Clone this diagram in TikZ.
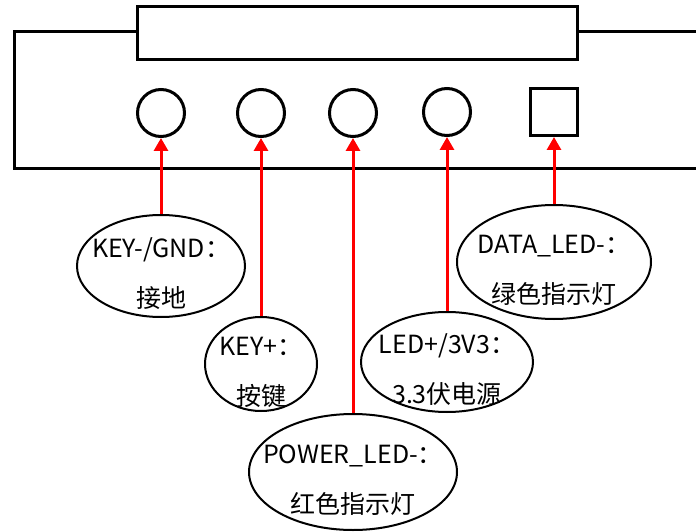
\documentclass[tikz,border=0pt]{standalone}
\usepackage{fontspec}
\setmainfont{Noto Sans CJK SC}
\usepackage{tikz}
\usetikzlibrary{shapes, arrows.meta, positioning}
\definecolor{pinred}{RGB}{255, 0, 0}

\begin{document}
\begin{tikzpicture}[x=1pt, y=-1pt,
    hole/.style={draw, circle, line width=3pt, minimum size=47pt, inner sep=0pt},
    pad/.style={draw, rectangle, line width=3pt, minimum size=47pt, inner sep=0pt},
    tag/.style={draw, ellipse, line width=2pt, inner sep=0pt},
    tagtext/.style={align=center, font=\fontsize{25}{50}\selectfont, yshift=-8pt},
    pin/.style={draw=pinred, line width=3pt, -{Triangle[width=14pt, length=13pt]}}]
  \useasboundingbox (0,0) rectangle (696,532);
  % housing
  \draw[line width=3pt] (137,32) -- (14,32) -- (14,168) -- (700,168);
  \draw[line width=3pt] (577,32) -- (700,32);
  \node[draw, line width=3pt, minimum width=440pt, minimum height=53pt, inner sep=0pt] (window) at (357,33.5) {};
  % holes and pad
  \node[hole] (gnd) at (161,113) {};
  \node[hole] (key) at (261,113) {};
  \node[hole] (pwr) at (353,113) {};
  \node[hole] (vcc) at (447,112) {};
  \node[pad] (data) at (554,112) {};
  % tags
  \node[tag, minimum width=168pt, minimum height=102pt, label={[tagtext]center:{KEY-/GND：\\接地}}] (gndtag) at (161,266) {};
  \node[tag, minimum width=112pt, minimum height=94pt, label={[tagtext]center:{KEY+：\\按键}}] (keytag) at (261,364) {};
  \node[tag, minimum width=208pt, minimum height=116pt, label={[tagtext]center:{POWER\_LED-：\\红色指示灯}}] (pwrtag) at (353,472) {};
  \node[tag, minimum width=172pt, minimum height=100pt, label={[tagtext]center:{LED+/3V3：\\3.3伏电源}}] (vcctag) at (447,362) {};
  \node[tag, minimum width=194pt, minimum height=114pt, label={[tagtext]center:{DATA\_LED-：\\绿色指示灯}}] (datatag) at (554,262) {};
  % pins
  \draw[pin] (gndtag) -- (gnd);
  \draw[pin] (keytag) -- (key);
  \draw[pin] (pwrtag) -- (pwr);
  \draw[pin] (vcctag) -- (vcc);
  \draw[pin] (datatag) -- (data);
\end{tikzpicture}
\end{document}
